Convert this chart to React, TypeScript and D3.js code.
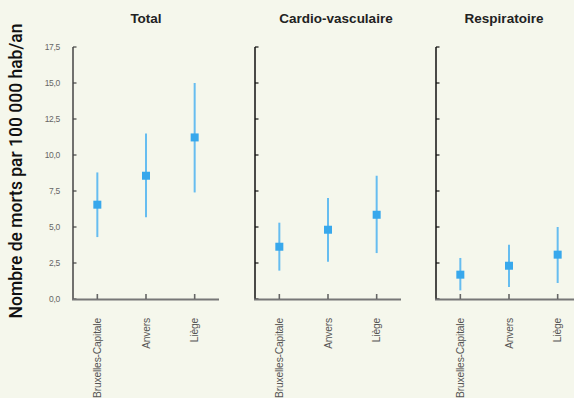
import React from "react";
import * as d3 from "d3";

const panels = ["Total", "Cardio-vasculaire", "Respiratoire"];
const categories = ["Bruxelles-Capitale", "Anvers", "Liège"];
const meanTotal = [6.55, 8.56, 11.22];
const lowTotal = [4.3, 5.67, 7.4];
const highTotal = [8.79, 11.5, 15.0];
const meanCardio = [3.63, 4.81, 5.85];
const lowCardio = [1.97, 2.59, 3.19];
const highCardio = [5.3, 7.01, 8.56];
const meanResp = [1.69, 2.31, 3.08];
const lowResp = [0.6, 0.83, 1.11];
const highResp = [2.85, 3.77, 5.0];
const yTicks = [0, 2.5, 5, 7.5, 10, 12.5, 15, 17.5];
const yTitle = "Nombre de morts par 100 000 hab/an";

const series = [
  { mean: meanTotal, low: lowTotal, high: highTotal },
  { mean: meanCardio, low: lowCardio, high: highCardio },
  { mean: meanResp, low: lowResp, high: highResp },
];

const W = 574;
const H = 398;
const panelX = [73, 255, 436];
const panelW = 146;
const titleCx = [146, 336, 504];
const FONT = "'Liberation Sans', Arial, sans-serif";

export default function App() {
  const y = d3.scaleLinear().domain([0, 17.5]).range([299, 47]);
  const fmt = (v: number) => v.toFixed(1).replace(".", ",");
  const sq = 8;
  return (
    <svg
      width={W}
      height={H}
      style={{ position: "absolute", left: 0, top: 0, background: "#f5f7ec" }}
    >
      <rect x={0} y={0} width={W} height={H} fill="#f5f7ec" />
      <text
        transform={`translate(22,171) rotate(-90)`}
        textAnchor="middle"
        fontFamily="Roboto, 'Liberation Sans', sans-serif"
        fontSize={17.5}
        fontWeight={500}
        fill="#111"
      >
        {yTitle}
      </text>
      {yTicks.map((t) => (
        <text
          key={t}
          x={60}
          y={y(t) + 3}
          textAnchor="end"
          fontFamily={FONT}
          fontSize={8.5}
          fill="#666"
          letterSpacing={-0.3}
        >
          {fmt(t)}
        </text>
      ))}
      {panels.map((p, i) => {
        const x0 = panelX[i];
        const x = d3
          .scalePoint<string>()
          .domain(categories)
          .range([x0, x0 + panelW])
          .padding(0.5);
        const s = series[i];
        const axisColor = i === 0 ? "#444" : "#111";
        return (
          <g key={p}>
            <text
              x={titleCx[i]}
              y={23}
              textAnchor="middle"
              fontFamily={FONT}
              fontSize={13.5}
              fontWeight="bold"
              fill="#222"
            >
              {p}
            </text>
            <line x1={x0} x2={x0} y1={y(17.5)} y2={300} stroke={axisColor} strokeWidth={1.5} />
            {yTicks.map((t) => (
              <line
                key={t}
                x1={x0}
                x2={x0 + 3.5}
                y1={y(t)}
                y2={y(t)}
                stroke={axisColor}
                strokeWidth={1.2}
              />
            ))}
            <line x1={x0 - 1} x2={x0 + panelW} y1={299.5} y2={299.5} stroke="#777" strokeWidth={2} />
            {categories.map((c) => (
              <line
                key={c}
                x1={x(c)!}
                x2={x(c)!}
                y1={299}
                y2={294}
                stroke="#666"
                strokeWidth={1.6}
              />
            ))}
            {categories.map((c, j) => (
              <g key={c}>
                <line
                  x1={x(c)!}
                  x2={x(c)!}
                  y1={y(s.low[j])}
                  y2={y(s.high[j])}
                  stroke="#66bdf0"
                  strokeWidth={2}
                />
                <rect
                  x={x(c)! - sq / 2}
                  y={y(s.mean[j]) - sq / 2}
                  width={sq}
                  height={sq}
                  fill="#38a8ec"
                />
              </g>
            ))}
            {categories.map((c) => (
              <text
                key={c}
                transform={`translate(${x(c)! + 3.5},318) rotate(-90)`}
                textAnchor="end"
                fontFamily={FONT}
                fontSize={10.3}
                fill="#555"
                letterSpacing={-0.2}
              >
                {c}
              </text>
            ))}
          </g>
        );
      })}
    </svg>
  );
}
